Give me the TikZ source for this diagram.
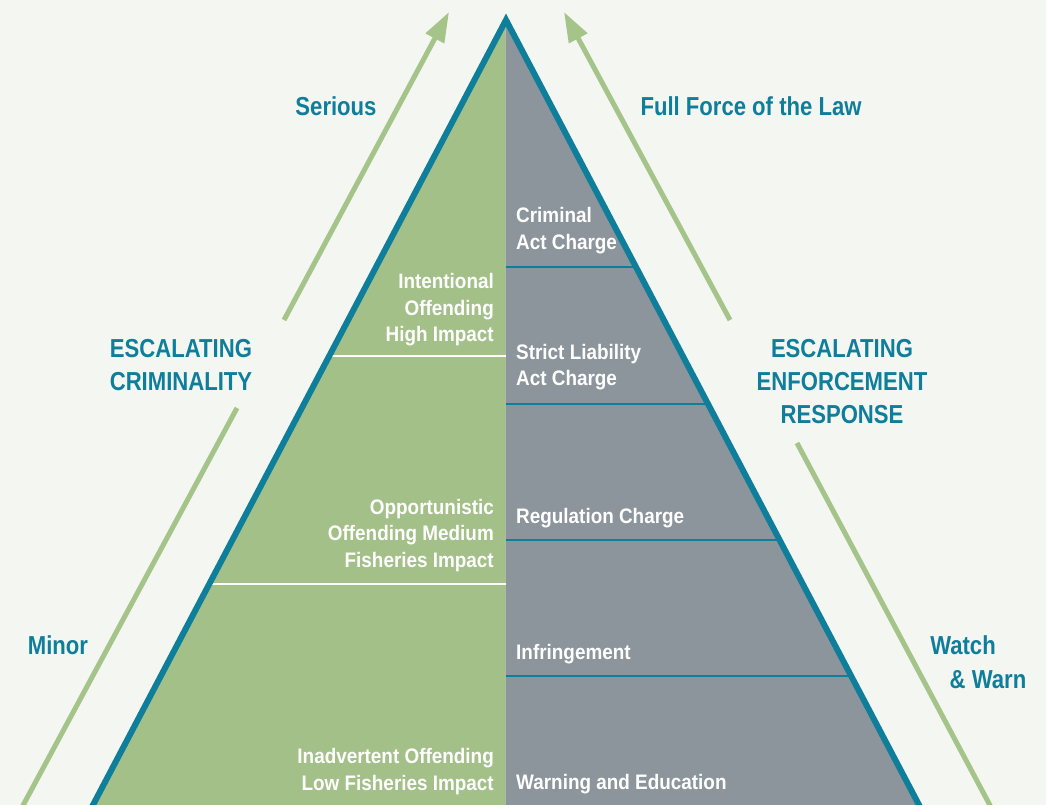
\documentclass[tikz,border=0pt]{standalone}
\usepackage{fontspec}
\setmainfont{Liberation Sans}[FakeStretch=0.9]
\newfontfamily\outerfont{Liberation Sans}[FakeStretch=0.85]
\usetikzlibrary{arrows.meta}

\definecolor{bg}{HTML}{F4F6F1}
\definecolor{leaf}{HTML}{A2C087}
\definecolor{slate}{HTML}{8C959B}
\definecolor{deepteal}{HTML}{0F7E9B}
\definecolor{arrowgreen}{HTML}{A4C48A}

\tikzset{
  arrowline/.style={draw=arrowgreen, line width=5pt},
  arrowtip/.style={-{Triangle[length=30pt,width=20pt]}},
  outer/.style={font=\outerfont\bfseries\fontsize{26}{33}\selectfont, text=deepteal, align=center, inner sep=0pt},
  lefttext/.style={font=\bfseries\fontsize{21}{26.5}\selectfont, text=white, align=right, anchor=east, inner sep=0pt},
  righttext/.style={font=\bfseries\fontsize{21}{26.5}\selectfont, text=white, align=left, anchor=west, inner sep=0pt},
}

\begin{document}
\begin{tikzpicture}[x=1pt,y=-1pt]
  % canvas
  \fill[bg] (0,0) rectangle (1046,805);
  \useasboundingbox (0,0) rectangle (1046,805);

  % pyramid corners (base runs past the lower edge)
  \coordinate (apex) at (506,20);
  \coordinate (bl) at (87.7,815);
  \coordinate (br) at (924.3,815);
  \coordinate (top) at (505.5,20);
  \coordinate (bot) at (505.5,815);

  % two halves
  \fill[leaf] (apex) -- (bl) -- (bot) -- (top) -- cycle;
  \fill[slate] (top) -- (bot) -- (br) -- (apex) -- cycle;

  % tier dividers
  \begin{scope}
    \clip (apex) -- (bl) -- (br) -- cycle;
    \draw[white, line width=2.5pt] (0,356) -- (top |- 0,356);
    \draw[white, line width=2.5pt] (0,584) -- (top |- 0,584);
    \foreach \yy in {267,404,540,676}
      \draw[deepteal, line width=2.5pt] (top |- 0,\yy) -- (1046,\yy);
  \end{scope}

  % outline
  \draw[deepteal, line width=6pt, line join=miter] (bl) -- (apex) -- (br);

  % escalation arrows
  \coordinate (la0) at (20,811);
  \coordinate (la1) at (237,408);
  \coordinate (la2) at (284,320);
  \coordinate (la3) at (449,12);
  \draw[arrowline] (la0) -- (la1);
  \draw[arrowline, arrowtip] (la2) -- (la3);

  \coordinate (ra0) at (993,811);
  \coordinate (ra1) at (797,443);
  \coordinate (ra2) at (730,320);
  \coordinate (ra3) at (564,12);
  \draw[arrowline] (ra0) -- (ra1);
  \draw[arrowline, arrowtip] (ra2) -- (ra3);

  % outer labels
  \node[outer] (serious) at (336,106) {Serious};
  \node[outer] (fullforce) at (751,106) {Full Force of the Law};
  \node[outer] (crim) at (181,365) {ESCALATING\\CRIMINALITY};
  \node[outer] (enf) at (842,382) {ESCALATING\\ENFORCEMENT\\RESPONSE};
  \node[outer] (minor) at (58,645) {Minor};
  \node[outer] (watch) at (963,645) {Watch};
  \node[outer] (warn) at (988,680) {\& Warn};

  % offence tiers
  \node[lefttext] (t1) at (494,310) {Intentional\\Offending\\High Impact};
  \node[lefttext] (t2) at (494,535.5) {Opportunistic\\Offending Medium\\Fisheries Impact};
  \node[lefttext] (t3) at (494,771.5) {Inadvertent Offending\\Low Fisheries Impact};

  % response tiers
  \node[righttext] (r1) at (516,230.5) {Criminal\\Act Charge};
  \node[righttext] (r2) at (516,367) {Strict Liability\\Act Charge};
  \node[righttext] (r3) at (516,518) {Regulation Charge};
  \node[righttext] (r4) at (516,654) {Infringement};
  \node[righttext] (r5) at (516,784) {Warning and Education};
\end{tikzpicture}
\end{document}
